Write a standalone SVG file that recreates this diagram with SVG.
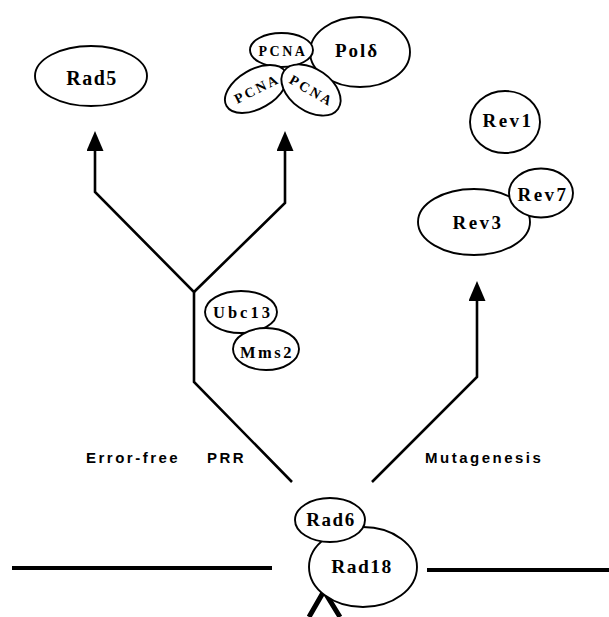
<svg xmlns="http://www.w3.org/2000/svg" width="609" height="617" viewBox="0 0 609 617">
<style>
.n{fill:#fff;stroke:#000;stroke-width:1.9}
.t{font-family:"Liberation Serif","Times New Roman",serif;font-weight:bold;text-anchor:middle;fill:#000}
.c{fill:none;stroke:#000;stroke-width:2.6;stroke-linejoin:miter}
.lab{font-family:"Liberation Sans",Arial,sans-serif;font-weight:bold;font-size:15px;letter-spacing:2.5px;fill:#000}
</style>
<defs>
<marker id="ah" viewBox="0 0 20 17" refX="0" refY="8.5" markerWidth="20" markerHeight="17" markerUnits="userSpaceOnUse" orient="auto">
<path d="M0,0 L20,8.5 L0,17 z" fill="#000"/>
</marker>
</defs>
<rect width="609" height="617" fill="#fff"/>
<g id="connectors">
<polyline class="c" points="292,482 194,382 194,292 95,192 95,151" marker-end="url(#ah)"/>
<polyline class="c" points="194,292 285,203 285,151" marker-end="url(#ah)"/>
<polyline class="c" points="372,482 477,377 477,301" marker-end="url(#ah)"/>
<line x1="12" y1="568" x2="272" y2="568" stroke="#000" stroke-width="4"/>
<line x1="427" y1="570" x2="609" y2="570" stroke="#000" stroke-width="4"/>
<polyline points="309,617 324,591 340,617" fill="none" stroke="#000" stroke-width="5" stroke-linejoin="miter"/>
</g>
<g id="labels">
<text class="lab" x="86" y="463">Error-free</text>
<text class="lab" x="207" y="463">PRR</text>
<text class="lab" x="425" y="463">Mutagenesis</text>
</g>
<g id="rad5">
<ellipse class="n" cx="91" cy="76" rx="56" ry="30"/>
<text class="t" x="92" y="85" font-size="20" letter-spacing="1.5">Rad5</text>
</g>
<g id="pold">
<ellipse class="n" cx="360" cy="52" rx="50" ry="35"/>
<text class="t" x="357" y="57" font-size="19" letter-spacing="2">Polδ</text>
</g>
<g id="pcna-top">
<ellipse class="n" cx="281.5" cy="50" rx="31.5" ry="17"/>
<text class="t" x="283" y="56" font-size="14" letter-spacing="2.5">PCNA</text>
</g>
<g id="pcna-left">
<ellipse class="n" cx="256" cy="89" rx="34" ry="19.5" transform="rotate(-30 256 89)"/>
<text class="t" x="257" y="94" font-size="14" letter-spacing="2.5" transform="rotate(-27 256 89)">PCNA</text>
</g>
<g id="pcna-right">
<ellipse class="n" cx="311" cy="90" rx="33" ry="21" transform="rotate(35 311 90)"/>
<text class="t" x="312" y="95" font-size="14" letter-spacing="2.5" transform="rotate(30 311 90)">PCNA</text>
</g>
<g id="rev1">
<ellipse class="n" cx="505" cy="122" rx="35" ry="31"/>
<text class="t" x="508" y="127" font-size="19" letter-spacing="2.5">Rev1</text>
</g>
<g id="rev3">
<ellipse class="n" cx="474" cy="222" rx="56" ry="33"/>
<text class="t" x="478" y="229" font-size="19" letter-spacing="2.5">Rev3</text>
</g>
<g id="rev7">
<ellipse class="n" cx="541" cy="193" rx="32" ry="24.5"/>
<text class="t" x="543" y="201" font-size="19" letter-spacing="2.5">Rev7</text>
</g>
<g id="ubc13">
<ellipse class="n" cx="241" cy="312" rx="36" ry="21"/>
<text class="t" x="243" y="318" font-size="16.5" letter-spacing="3">Ubc13</text>
</g>
<g id="mms2">
<ellipse class="n" cx="266" cy="349" rx="33" ry="21"/>
<text class="t" x="267" y="358" font-size="16.5" letter-spacing="2.5">Mms2</text>
</g>
<g id="rad18">
<ellipse class="n" cx="363" cy="567" rx="54" ry="40"/>
<text class="t" x="362" y="573" font-size="19.5" letter-spacing="1.5">Rad18</text>
</g>
<g id="rad6">
<ellipse class="n" cx="330" cy="520" rx="35" ry="22"/>
<text class="t" x="331" y="526" font-size="19" letter-spacing="1.5">Rad6</text>
</g>
</svg>
